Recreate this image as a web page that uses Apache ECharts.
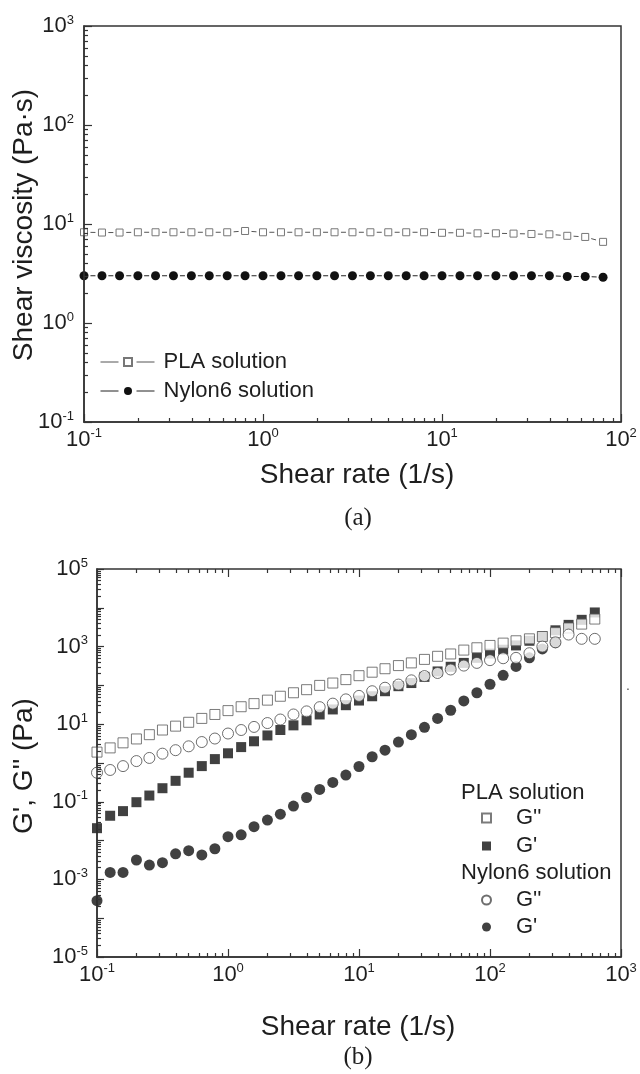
<!DOCTYPE html>
<html><head><meta charset="utf-8">
<script src="https://cdn.jsdelivr.net/npm/echarts@6/dist/echarts.min.js"></script>
<style>html,body{margin:0;padding:0;background:#fff}#c{width:640px;height:1074px}</style>
</head><body><div id="c"></div>
<script>
// ---------- Panel (a): shear viscosity ----------
const rateA = [0.1,0.126,0.158,0.2,0.251,0.316,0.398,0.501,0.631,0.794,
  1,1.26,1.58,2,2.51,3.16,3.98,5.01,6.31,7.94,
  10,12.6,15.8,20,25.1,31.6,39.8,50.1,63.1,79.4];
const plaVisc = [8.25,8.2,8.2,8.25,8.25,8.25,8.25,8.25,8.25,8.5,
  8.25,8.25,8.25,8.25,8.25,8.25,8.25,8.25,8.25,8.25,
  8.15,8.15,8.05,8.05,8.0,7.93,7.87,7.6,7.4,6.6];
const nylonVisc = [3.0,3.0,3.0,3.0,3.0,3.0,3.0,3.0,3.0,3.0,
  3.0,3.0,3.0,3.0,3.0,3.0,3.0,3.0,3.0,3.0,
  3.0,3.0,3.0,3.0,3.0,3.0,3.0,2.95,2.95,2.9];
const yLabelsA = [0.1,1,10,100,1000];
const xLabelsA = [0.1,1,10,100];

// ---------- Panel (b): G', G'' ----------
const rateB = [0.1,0.126,0.158,0.2,0.251,0.316,0.398,0.501,0.631,0.794,
  1,1.26,1.58,2,2.51,3.16,3.98,5.01,6.31,7.94,
  10,12.6,15.8,20,25.1,31.6,39.8,50.1,63.1,79.4,
  100,126,158,200,251,316,398,501,631];
const plaG2 = [1.91,2.45,3.31,4.17,5.37,7.08,8.91,11.2,14.1,17.8,
  22.4,28.2,33.9,41.7,52.5,64.6,77.6,100,115,141,
  178,219,269,324,380,468,562,646,813,933,
  1072,1230,1413,1585,1820,2291,3020,3802,5129];
const plaG1 = [0.0209,0.0437,0.0575,0.0977,0.145,0.224,0.347,0.562,0.832,1.26,
  1.78,2.57,3.63,5.13,7.08,9.33,12.6,17.8,24.0,30.9,
  40.7,52.5,70.8,95.5,115,166,229,302,380,513,
  661,832,1072,1413,1862,2630,3631,4898,7586];
const nyG2 = [0.562,0.661,0.832,1.12,1.35,1.74,2.14,2.69,3.47,4.27,
  5.75,7.08,8.51,10.7,13.2,17.8,21.4,27.5,33.9,43.7,
  53.7,70.8,87.1,105,135,174,209,257,324,380,
  447,501,513,676,1000,1288,2042,1585,1585];
const nyG1 = [0.000282,0.00151,0.00151,0.00316,0.00234,0.00269,0.00457,0.0055,0.00427,0.00617,
  0.0126,0.0141,0.0229,0.0339,0.0479,0.0776,0.129,0.209,0.316,0.49,
  0.813,1.45,2.14,3.47,5.37,8.32,14.1,22.9,39.8,64.6,
  107,182,309,513,871,1259];
const yLabelsB = [1e-5,1e-3,0.1,10,1000,1e5];
const xLabelsB = [0.1,1,10,100,1000];

// ---------- helpers ----------
function majors(e0,e1){const o=[];for(let e=e0;e<=e1;e++)o.push(parseFloat(Math.pow(10,e).toPrecision(3)));return o;}
function minors(e0,e1){const o=[];for(let e=e0;e<e1;e++)for(let k=2;k<=9;k++)o.push(parseFloat((k*Math.pow(10,e)).toPrecision(3)));return o;}
const AX = '#333';
const TXT = '#1e1e1e';
const FONT = '"Liberation Sans", Arial, sans-serif';
const RICH = {
  b:{fontSize:22,fontFamily:FONT,color:TXT,lineHeight:25},
  s:{fontSize:13,fontFamily:FONT,color:TXT,verticalAlign:'top',lineHeight:12}
};
function pow10(v){const e=Math.round(Math.log10(v));return '{b|10}{s|'+e+'}';}
function pairs(xs,ys){return ys.map((y,i)=>[xs[i],y]);}

function axis(opt){
  return {
    type:'log', logBase:10, gridIndex:opt.grid, min:opt.min, max:opt.max, position:opt.pos,
    splitLine:{show:false}, minorTick:{show:false}, minorSplitLine:{show:false},
    axisLine:{show:!!opt.line, lineStyle:{color:AX,width:1.5}},
    axisTick:{show:true, inside:true, length:opt.len, lineStyle:{color:AX,width:1.2}, customValues:opt.ticks},
    axisLabel: opt.labels ? {show:true, customValues:opt.labels, formatter:pow10, rich:RICH, margin:opt.margin} : {show:false},
    z: 5
  };
}

const chart = echarts.init(document.getElementById('c'), null, {renderer:'canvas'});
const option = {
  animation:false,
  backgroundColor:'#fff',
  grid:[
    {left:84, top:26, width:537, height:396, show:true, borderColor:AX, borderWidth:1.5, backgroundColor:'transparent'},
    {left:97, top:569, width:524, height:388, show:true, borderColor:AX, borderWidth:1.5, backgroundColor:'transparent'}
  ],
  xAxis:[
    axis({grid:0,min:0.1,max:100,pos:'bottom',line:true,len:8,ticks:majors(-1,2),labels:xLabelsA,margin:5}),
    axis({grid:0,min:0.1,max:100,pos:'bottom',len:4,ticks:minors(-1,2)}),
    axis({grid:1,min:0.1,max:1000,pos:'bottom',line:true,len:8,ticks:majors(-1,3),labels:xLabelsB,margin:5}),
    axis({grid:1,min:0.1,max:1000,pos:'bottom',len:4,ticks:minors(-1,3)}),
    axis({grid:1,min:0.1,max:1000,pos:'top',len:8,ticks:majors(-1,3)}),
    axis({grid:1,min:0.1,max:1000,pos:'top',len:4,ticks:minors(-1,3)})
  ],
  yAxis:[
    axis({grid:0,min:0.1,max:1000,pos:'left',line:true,len:8,ticks:majors(-1,3),labels:yLabelsA,margin:10}),
    axis({grid:0,min:0.1,max:1000,pos:'left',len:4,ticks:minors(-1,3)}),
    axis({grid:1,min:1e-5,max:1e5,pos:'left',line:true,len:7,ticks:majors(-5,5),labels:yLabelsB,margin:9}),
    axis({grid:1,min:1e-5,max:1e5,pos:'left',len:4,ticks:minors(-5,5)})
  ],
  legend:[
    {data:['PLA solution','Nylon6 solution'], left:95, top:346, orient:'vertical', itemGap:7,
     itemWidth:55, itemHeight:10, selectedMode:false,
     lineStyle:{type:[18,18], dashOffset:0, width:1},
     textStyle:{fontSize:22, fontFamily:FONT, color:TXT, padding:[0,0,0,3]}},
    {data:["PLA solution G''","PLA solution G'"], left:476, top:802, orient:'vertical', itemGap:6,
     itemWidth:9, itemHeight:9, selectedMode:false, formatter:n=>n.replace(/^.* /,''),
     textStyle:{fontSize:22, fontFamily:FONT, color:TXT, padding:[0,0,0,20]}},
    {data:["Nylon6 solution G''","Nylon6 solution G'"], left:476, top:884, orient:'vertical', itemGap:5,
     itemWidth:9, itemHeight:9, selectedMode:false, formatter:n=>n.replace(/^.* /,''),
     textStyle:{fontSize:22, fontFamily:FONT, color:TXT, padding:[0,0,0,20]}}
  ],
  series:[
    {name:'PLA solution', type:'line', xAxisIndex:0, yAxisIndex:0, data:pairs(rateA,plaVisc),
     symbol:'rect', symbolSize:7, lineStyle:{color:'#555',width:1,type:[5,12.9],dashOffset:11.45},
     itemStyle:{color:'#fff', borderColor:'#777', borderWidth:1}, z:3},
    {name:'Nylon6 solution', type:'line', xAxisIndex:0, yAxisIndex:0, data:pairs(rateA,nylonVisc),
     symbol:'circle', symbolSize:9, lineStyle:{color:'#222',width:1,type:[5,12.9],dashOffset:11.45},
     itemStyle:{color:'#111', borderWidth:0}, z:3},
    {name:"PLA solution G'", type:'scatter', xAxisIndex:2, yAxisIndex:2, data:pairs(rateB,plaG1),
     symbol:'rect', symbolSize:10, itemStyle:{color:'#111', borderWidth:0}, z:3},
    {name:"Nylon6 solution G'", type:'scatter', xAxisIndex:2, yAxisIndex:2, data:pairs(rateB,nyG1),
     symbol:'circle', symbolSize:11, itemStyle:{color:'#111', borderWidth:0}, z:3},
    {name:"PLA solution G''", type:'scatter', xAxisIndex:2, yAxisIndex:2, data:pairs(rateB,plaG2),
     symbol:'rect', symbolSize:10, itemStyle:{color:'#fff', borderColor:'#5a5a5a', borderWidth:1}, z:3},
    {name:"Nylon6 solution G''", type:'scatter', xAxisIndex:2, yAxisIndex:2, data:pairs(rateB,nyG2),
     symbol:'circle', symbolSize:11, itemStyle:{color:'#fff', borderColor:'#4a4a4a', borderWidth:1}, z:3}
  ],
  graphic:[
    {type:'text', x:24, y:225, rotation:Math.PI/2, style:{text:'Shear viscosity (Pa·s)', fontSize:28, fontFamily:FONT, fill:TXT, align:'center', verticalAlign:'middle'}},
    {type:'text', x:357, y:475, style:{text:'Shear rate (1/s)', fontSize:28, fontFamily:FONT, fill:TXT, align:'center', verticalAlign:'middle'}},
    {type:'text', x:358, y:518, style:{text:'(a)', fontSize:25, fontFamily:'"Liberation Serif", "Times New Roman", serif', fill:TXT, align:'center', verticalAlign:'middle'}},
    {type:'text', x:24, y:766, rotation:Math.PI/2, style:{text:"G', G'' (Pa)", fontSize:28, fontFamily:FONT, fill:TXT, align:'center', verticalAlign:'middle'}},
    {type:'text', x:358, y:1027, style:{text:'Shear rate (1/s)', fontSize:28, fontFamily:FONT, fill:TXT, align:'center', verticalAlign:'middle'}},
    {type:'text', x:358, y:1057, style:{text:'(b)', fontSize:25, fontFamily:'"Liberation Serif", "Times New Roman", serif', fill:TXT, align:'center', verticalAlign:'middle'}},
    {type:'text', x:461, y:793, style:{text:'PLA solution', fontSize:22, fontFamily:FONT, fill:TXT, align:'left', verticalAlign:'middle'}},
    {type:'text', x:461, y:873, style:{text:'Nylon6 solution', fontSize:22, fontFamily:FONT, fill:TXT, align:'left', verticalAlign:'middle'}},
    {type:'text', x:628, y:686, style:{text:'.', fontSize:14, fontFamily:FONT, fill:'#555', align:'center', verticalAlign:'middle'}}
  ]
};
chart.setOption(option);
</script>
</body></html>
